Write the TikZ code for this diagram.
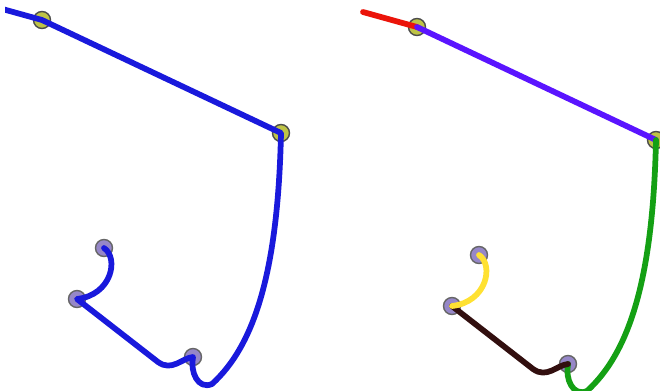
\documentclass[tikz,border=0pt]{standalone}
\usepackage{tikz}
\definecolor{trackblue}{RGB}{25,25,220}
\definecolor{trackred}{RGB}{235,20,10}
\definecolor{trackviolet}{RGB}{90,20,255}
\definecolor{trackgreen}{RGB}{20,160,20}
\definecolor{trackbrown}{RGB}{50,15,15}
\definecolor{trackyellow}{RGB}{255,225,50}
\definecolor{jointfill}{RGB}{190,195,70}
\definecolor{stopfill}{RGB}{150,135,200}

\begin{document}
\begin{tikzpicture}[x=0.02cm, y=-0.02cm,
    track/.style={line width=0.115cm, line cap=round, line join=round},
    joint/.style={circle, draw=black!70, fill=jointfill, line width=0.8pt, minimum size=0.34cm, inner sep=0pt},
    stopnode/.style={circle, draw=black!60, fill=stopfill, line width=0.8pt, minimum size=0.34cm, inner sep=0pt}
]
\useasboundingbox (0,0) rectangle (660,390);
\fill[white] (0,0) rectangle (660,390);

% Left panel
\begin{scope}
\clip (5,0) rectangle (340,390);
\coordinate (sL) at (-12,5);
\node[joint] (aL) at (42,20) {};
\node[joint] (bL) at (281,133) {};
\node[stopnode] (eL) at (104,248) {};
\node[stopnode] (cL) at (77,299) {};
\node[stopnode] (dL) at (193,357) {};

\draw[track, trackblue] (sL) -- (aL.center) -- (bL.center)
    .. controls (278,270) and (255,345) .. (212,384)
    .. controls (198,390) and (190,372) .. (dL.center)
    .. controls (182,358) and (172,372) .. (158,362) -- (cL.center)
    .. controls (112,295) and (119,258) .. (eL.center);
\end{scope}

% Right panel
\begin{scope}[shift={(375,7)}]
\coordinate (sR) at (-12,5);
\node[joint] (aR) at (42,20) {};
\node[joint] (bR) at (281,133) {};
\node[stopnode] (eR) at (104,248) {};
\node[stopnode] (cR) at (77,299) {};
\node[stopnode] (dR) at (193,357) {};

\draw[track, trackred] (sR) -- (aR.center);
\draw[track, trackviolet] (aR.center) -- (bR.center);
\draw[track, trackgreen] (bR.center)
    .. controls (278,270) and (255,345) .. (212,384)
    .. controls (198,390) and (190,372) .. (dR.center);
\draw[track, trackbrown] (dR.center)
    .. controls (182,358) and (172,372) .. (158,362) -- (cR.center);
\draw[track, trackyellow] (cR.center)
    .. controls (112,295) and (119,258) .. (eR.center);
\end{scope}
\end{tikzpicture}
\end{document}
